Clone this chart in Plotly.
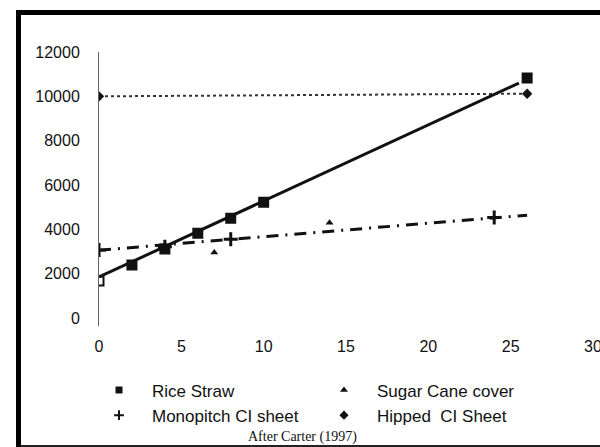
import plotly.graph_objects as go

# ---- data ----
rice_x = [0, 2, 4, 6, 8, 10, 26]
rice_y = [1670, 2390, 3110, 3820, 4500, 5220, 10830]
rice_trend_x = [0, 25.5]
rice_trend_y = [1850, 10600]

sugar_x = [7, 14]
sugar_y = [2950, 4300]

mono_x = [0, 4, 8, 24]
mono_y = [3070, 3220, 3550, 4530]
mono_trend_x = [0, 26]
mono_trend_y = [3060, 4640]

hipped_x = [0, 26]
hipped_y = [10000, 10120]

x_ticks = [0, 5, 10, 15, 20, 25, 30]
y_ticks = [0, 2000, 4000, 6000, 8000, 10000, 12000]
y_tick_labels = ["0", "2000", "4000", "6000", "8000", "10000", "12000"]
legend_names = ["Rice Straw", "Sugar Cane cover", "Monopitch CI sheet", "Hipped  CI Sheet"]
legend_symbols = ["square", "triangle-up", "cross-thin", "diamond"]
source_note = "After Carter (1997)"

BLACK = "#111111"
fig = go.Figure()

# trend / connecting lines
fig.add_trace(go.Scatter(x=hipped_x, y=hipped_y, mode="lines+markers", showlegend=False,
                         line=dict(color="#333333", width=2, dash="dot"),
                         marker=dict(symbol="diamond", size=8, color=BLACK)))
fig.add_trace(go.Scatter(x=mono_trend_x, y=mono_trend_y, mode="lines", showlegend=False,
                         line=dict(color=BLACK, width=3, dash="12px,7px,2px,7px")))
fig.add_trace(go.Scatter(x=rice_trend_x, y=rice_trend_y, mode="lines", showlegend=False,
                         line=dict(color=BLACK, width=3)))

# markers
rice_symbols = ["square-open"] + ["square"] * (len(rice_x) - 1)
fig.add_trace(go.Scatter(x=rice_x, y=rice_y, mode="markers", showlegend=False,
                         marker=dict(symbol=rice_symbols, size=9, color=BLACK,
                                     line=dict(color=BLACK, width=2))))
fig.add_trace(go.Scatter(x=sugar_x, y=sugar_y, mode="markers", showlegend=False,
                         marker=dict(symbol="triangle-up", size=7, color=BLACK)))
fig.add_trace(go.Scatter(x=mono_x, y=mono_y, mode="markers", showlegend=False,
                         marker=dict(symbol="cross-thin", size=10, color=BLACK,
                                     line=dict(color=BLACK, width=3))))

# legend entries (marker only)
for name, sym in zip(legend_names, legend_symbols):
    fig.add_trace(go.Scatter(x=[None], y=[None], mode="markers", name=name,
                             marker=dict(symbol=sym, size=7, color=BLACK,
                                         line=dict(color=BLACK, width=2 if sym == "cross-thin" else 0))))

L, R, T, B = 99, 7, 52, 121
W, H = 600, 447
pw, ph = W - L - R, H - T - B

def px_x(p):
    return (p - L) / pw

def px_y(p):
    return (H - B - p) / ph

# frame lines of the scanned figure
fig.add_shape(type="line", xref="paper", yref="paper", x0=px_x(18.5), x1=px_x(18.5),
              y0=px_y(10), y1=px_y(450), line=dict(color="black", width=5))
fig.add_shape(type="line", xref="paper", yref="paper", x0=px_x(16), x1=px_x(610),
              y0=px_y(12.5), y1=px_y(12.5), line=dict(color="black", width=5))
fig.add_shape(type="line", xref="paper", yref="paper", x0=px_x(21), x1=px_x(610),
              y0=px_y(446), y1=px_y(446), line=dict(color="#222222", width=2))

fig.add_annotation(text=source_note, xref="paper", yref="paper", x=px_x(302), y=px_y(437),
                   xanchor="center", yanchor="middle",
                   showarrow=False, font=dict(family="Liberation Serif", size=14, color=BLACK))

fig.update_layout(
    width=W, height=H,
    margin=dict(l=L, r=R, t=T, b=B, pad=0, autoexpand=False),
    paper_bgcolor="white", plot_bgcolor="white",
    font=dict(family="Liberation Sans, Arial", color=BLACK),
    legend=dict(orientation="h", x=px_x(86), y=px_y(372.5), xanchor="left", yanchor="top",
                entrywidth=154, entrywidthmode="pixels", itemwidth=56,
                font=dict(size=17, color=BLACK), bgcolor="rgba(0,0,0,0)",
                traceorder="normal"),
    xaxis=dict(range=[0, 30], tickvals=x_ticks, showgrid=False, zeroline=False,
               showline=False, ticks="outside", ticklen=6, tickcolor="rgba(0,0,0,0)",
               tickfont=dict(size=16), ticklabeloverflow="allow", automargin=False,
               fixedrange=True),
    yaxis=dict(range=[-360, 12000], tickvals=y_ticks, ticktext=y_tick_labels,
               showgrid=False, zeroline=False,
               showline=True, linecolor="#666666", linewidth=1,
               ticks="outside", ticklen=15, tickcolor="rgba(0,0,0,0)",
               tickfont=dict(size=16), automargin=False, fixedrange=True),
)

fig.write_html("out.html", config={"displayModeBar": False},
               post_script="document.body.style.margin='0';document.body.style.overflow='hidden';")
